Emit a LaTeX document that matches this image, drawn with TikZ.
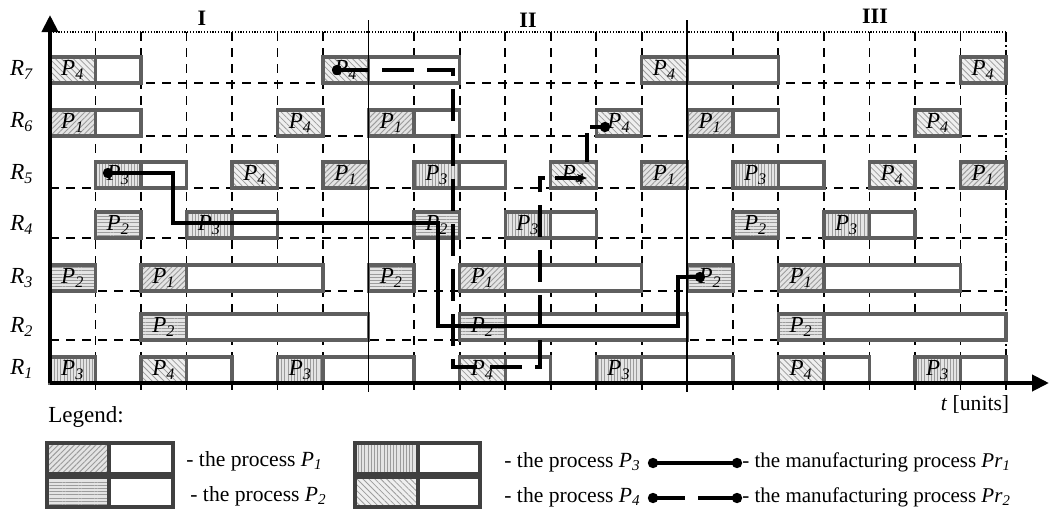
\documentclass[tikz,border=0pt]{standalone}
\usepackage{fontspec}
\setmainfont{Liberation Serif}
\usetikzlibrary{patterns.meta,arrows.meta}
\definecolor{boxgray}{HTML}{5F5F5F}
\definecolor{leggray}{HTML}{404040}
\definecolor{hatchgray}{HTML}{9C9C9C}
\definecolor{hatchbg}{HTML}{E4E4E4}
\newcommand\sx[2]{\textit{#1}\textsubscript{\textit{#2}}}
\tikzset{
  boxline/.style={draw=boxgray, line width=1.7pt},
  legline/.style={draw=leggray, line width=1.9pt},
  lbl/.style={inner sep=0pt, font=\fontsize{11.5}{13}\selectfont},
  gridl/.style={line width=0.85pt, dash pattern=on 4.5pt off 3.5pt},
  secl/.style={line width=0.8pt},
  axisl/.style={line width=2pt, -{Triangle[length=8.5pt,width=8pt]}},
  prone/.style={line width=1.8pt},
  prtwo/.style={line width=1.8pt, dash pattern=on 16pt off 6.5pt},
  hPa/.style={fill=hatchbg, postaction={pattern={Lines[angle=45,distance=1.9pt,line width=0.45pt]}, pattern color=hatchgray}},
  hPb/.style={fill=hatchbg, postaction={pattern={Lines[angle=0,distance=1.6pt,line width=0.45pt]}, pattern color=hatchgray}},
  hPc/.style={fill=hatchbg, postaction={pattern={Lines[angle=90,distance=1.6pt,line width=0.45pt]}, pattern color=hatchgray}},
  hPd/.style={fill=hatchbg!60, postaction={pattern={Lines[angle=-45,distance=2.1pt,line width=0.4pt]}, pattern color=hatchgray}},
}
% #1 bottom y, #2 start k, #3 end of hatched part, #4 end k, #5 hatch style, #6 index
\newcommand\pbox[6]{%
  \fill[white] ({50+45.52*#2},#1) rectangle ({50+45.52*#4},#1-26);
  \path[#5] ({50+45.52*#2},#1) rectangle ({50+45.52*#3},#1-26);
  \draw[boxline] ({50+45.52*#2},#1) rectangle ({50+45.52*#4},#1-26);
  \draw[boxline] ({50+45.52*#3},#1) -- ({50+45.52*#3},#1-26);
  \node[lbl] (b#1k#2) at ({50+45.52*(#2+#3)/2},#1-13) {\sx{P}{#6}};
}
\begin{document}
\begin{tikzpicture}[x=0.5pt,y=-0.5pt,font=\fontsize{10.8}{13}\selectfont]
\useasboundingbox (0,0) rectangle (1049,514);
% grid
\foreach \k in {1,...,6,8,9,...,13,15,16,...,20}
  \draw[gridl] ({50+45.52*\k},32) -- ({50+45.52*\k},390);
\foreach \y in {83,136,188,238,291,340}
  \draw[gridl] (50,\y) -- (1006,\y);
\draw[line width=0.6pt, dash pattern=on 0.6pt off 0.8pt] (50,32) -- (1006,32);
\draw[line width=0.6pt, dash pattern=on 5pt off 1.5pt on 0.8pt off 1.5pt] (1006,32) -- (1006,390);
% boxes R7
\pbox{83}{0}{1}{2}{hPd}{4}
\pbox{83}{6}{7}{9}{hPd}{4}
\pbox{83}{13}{14}{16}{hPd}{4}
\pbox{83}{20}{21}{21}{hPd}{4}
% R6
\pbox{136}{0}{1}{2}{hPa}{1}
\pbox{136}{5}{6}{6}{hPd}{4}
\pbox{136}{7}{8}{9}{hPa}{1}
\pbox{136}{12}{13}{13}{hPd}{4}
\pbox{136}{14}{15}{16}{hPa}{1}
\pbox{136}{19}{20}{20}{hPd}{4}
% R5
\pbox{188}{1}{2}{3}{hPc}{3}
\pbox{188}{4}{5}{5}{hPd}{4}
\pbox{188}{6}{7}{7}{hPa}{1}
\pbox{188}{8}{9}{10}{hPc}{3}
\pbox{188}{11}{12}{12}{hPd}{4}
\pbox{188}{13}{14}{14}{hPa}{1}
\pbox{188}{15}{16}{17}{hPc}{3}
\pbox{188}{18}{19}{19}{hPd}{4}
\pbox{188}{20}{21}{21}{hPa}{1}
% R4
\pbox{238}{1}{2}{2}{hPb}{2}
\pbox{238}{3}{4}{5}{hPc}{3}
\pbox{238}{8}{9}{9}{hPb}{2}
\pbox{238}{10}{11}{12}{hPc}{3}
\pbox{238}{15}{16}{16}{hPb}{2}
\pbox{238}{17}{18}{19}{hPc}{3}
% R3
\pbox{291}{0}{1}{1}{hPb}{2}
\pbox{291}{2}{3}{6}{hPa}{1}
\pbox{291}{7}{8}{8}{hPb}{2}
\pbox{291}{9}{10}{13}{hPa}{1}
\pbox{291}{14}{15}{15}{hPb}{2}
\pbox{291}{16}{17}{20}{hPa}{1}
% R2
\pbox{340}{2}{3}{7}{hPb}{2}
\pbox{340}{9}{10}{14}{hPb}{2}
\pbox{340}{16}{17}{21}{hPb}{2}
% R1
\pbox{383}{0}{1}{1}{hPc}{3}
\pbox{383}{2}{3}{4}{hPd}{4}
\pbox{383}{5}{6}{8}{hPc}{3}
\pbox{383}{9}{10}{11}{hPd}{4}
\pbox{383}{12}{13}{15}{hPc}{3}
\pbox{383}{16}{17}{18}{hPd}{4}
\pbox{383}{19}{20}{21}{hPc}{3}
% section lines
\draw[secl] ({50+45.52*7},20) -- ({50+45.52*7},392);
\draw[secl] ({50+45.52*14},20) -- ({50+45.52*14},392);
% axes
\coordinate (O) at (50,383);
\coordinate (ytop) at (50,15);
\coordinate (xend) at (1049,383);
\draw[axisl] (O) -- (ytop);
\draw[axisl] (O) -- (xend);
% row labels
\begin{scope}[font=\fontsize{11.5}{13}\selectfont]
\node (r7) at (22,70) {\sx{R}{7}};
\node (r6) at (22,122) {\sx{R}{6}};
\node (r5) at (22,174) {\sx{R}{5}};
\node (r4) at (22,225) {\sx{R}{4}};
\node (r3) at (22,278) {\sx{R}{3}};
\node (r2) at (22,327) {\sx{R}{2}};
\node (r1) at (22,369) {\sx{R}{1}};
\end{scope}
% section labels
\node[font=\fontsize{11}{13}\selectfont\bfseries] (s1) at (202,18) {I};
\node[font=\fontsize{11}{13}\selectfont\bfseries] (s2) at (528,20) {II};
\node[font=\fontsize{11}{13}\selectfont\bfseries] (s3) at (875,16) {III};
\node (tl) at (975,404) {\textit{t} [units]};
% Pr1
\coordinate (a0) at (108,173);
\coordinate (a1) at (173,173);
\coordinate (a2) at (173,223);
\coordinate (a3) at (438,223);
\coordinate (a4) at (438,326);
\coordinate (a5) at (678,326);
\coordinate (a6) at (678,277);
\coordinate (a7) at (700,277);
\draw[prone, line join=miter] (a0) -- (a1) -- (a2) -- (a3) -- (a4) -- (a5) -- (a6) -- (a7);
\fill (a0) circle[radius=2.6pt];
\fill (a7) circle[radius=2.6pt];
% Pr2
\coordinate (c0) at (337,70);
\coordinate (c1) at (453,70);
\coordinate (c2) at (453,367);
\coordinate (c3) at (540,367);
\coordinate (c4) at (540,178);
\coordinate (c5) at (545,178);
\coordinate (c6) at (555,178);
\coordinate (c7) at (587,178);
\coordinate (c8) at (587,162);
\coordinate (c9) at (587,133);
\coordinate (c10) at (590,127);
\coordinate (c11) at (605,127);
\draw[prtwo] (c0) -- (c1) -- (c2) -- (c3) -- (c4) -- (c5);
\draw[line width=1.8pt, -{Stealth[length=5pt,width=4pt]}] (c6) -- (c7);
\draw[line width=1.8pt] (c8) -- (c9);
\draw[line width=1.8pt] (c10) -- (c11);
\fill (c0) circle[radius=2.6pt];
\fill (c11) circle[radius=2.6pt];
% legend
\node[font=\fontsize{11.5}{13}\selectfont] (leg) at (86,417) {Legend:};
\path[hPa] (47,474) rectangle (109,443);
\draw[legline] (47,474) rectangle (173,443) (109,474) -- (109,443);
\path[hPb] (47,507) rectangle (109,477);
\draw[legline] (47,507) rectangle (173,477) (109,507) -- (109,477);
\path[hPc] (355,474) rectangle (418,443);
\draw[legline] (355,474) rectangle (480,443) (418,474) -- (418,443);
\path[hPd] (355,507) rectangle (418,477);
\draw[legline] (355,507) rectangle (480,477) (418,507) -- (418,477);
\node[anchor=west, inner sep=0pt] (t1) at (186,461) {- the process \sx{P}{1}};
\node[anchor=west, inner sep=0pt] (t2) at (190,496) {- the process \sx{P}{2}};
\node[anchor=west, inner sep=0pt] (t3) at (504,462) {- the process \sx{P}{3}};
\node[anchor=west, inner sep=0pt] (t4) at (504,497) {- the process \sx{P}{4}};
\coordinate (l1a) at (653,463);
\coordinate (l1b) at (737,463);
\draw[prone] (l1a) -- (l1b);
\fill (l1a) circle[radius=2.6pt];
\fill (l1b) circle[radius=2.6pt];
\coordinate (l2a) at (653,498);
\coordinate (l2b) at (685,498);
\coordinate (l2c) at (698,498);
\coordinate (l2d) at (737,498);
\draw[prone] (l2a) -- (l2b);
\draw[prone] (l2c) -- (l2d);
\fill (l2a) circle[radius=2.6pt];
\fill (l2d) circle[radius=2.6pt];
\node[anchor=west, inner sep=0pt, font=\fontsize{10.5}{13}\selectfont] (t5) at (742,462) {- the manufacturing process \sx{Pr}{1}};
\node[anchor=west, inner sep=0pt, font=\fontsize{10.5}{13}\selectfont] (t6) at (742,497) {- the manufacturing process \sx{Pr}{2}};
\end{tikzpicture}
\end{document}
